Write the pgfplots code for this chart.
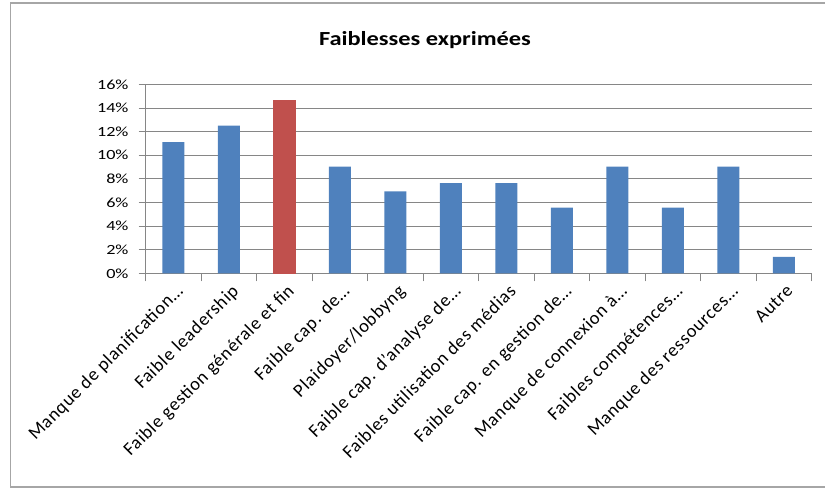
\documentclass[border=0pt]{standalone}
\usepackage{pgfplots}
\pgfplotsset{compat=1.18}
\usepackage{fontspec}
\setmainfont{Carlito}
\definecolor{xlblue}{HTML}{4F81BD}
\definecolor{xlred}{HTML}{C0504D}
\definecolor{gridgray}{HTML}{868686}
\begin{document}
\begin{tikzpicture}
\path[use as bounding box] (0pt,0pt) rectangle (825pt,-489pt);
\draw[gray!70, line width=1.2pt] (825pt,-3pt) -- (10.5pt,-3pt) -- (10.5pt,-487pt) -- (825pt,-487pt);
\node[font=\fontsize{20}{24}\selectfont\bfseries] at (425pt,-40pt) {\scalebox{1.22}[1]{Faiblesses exprimées}};
\begin{axis}[
  at={(145.7pt,-273.3pt)}, anchor=south west,
  scale only axis, width=666pt, height=189pt,
  ymin=0, ymax=16, ytick={0,2,...,16},
  xmin=0.5, xmax=12.5,
  xtick={1,...,12},
  xticklabels={{Manque de planification…},{Faible leadership},{Faible gestion générale et fin},{Faible cap. de…},{Plaidoyer/lobbyng},{Faible cap. d'analyse de…},{Faibles utilisation des médias},{Faible cap. en gestion de…},{Manque de connexion à…},{Faibles compétences…},{Manque des ressources…},{Autre}},
  minor xtick={0.5,1.5,...,12.5},
  axis x line*=bottom, axis y line*=left,
  axis line style={-, draw=gridgray, line width=0.8pt},
  xtick pos=bottom, ytick pos=left,
  tick align=outside, major tick length=7pt, minor tick length=8pt,
  major x tick style={draw=none},
  minor x tick style={draw=gridgray, line width=0.8pt},
  ytick style={draw=gridgray, line width=0.8pt},
  ymajorgrids, grid style={gridgray, line width=0.8pt},
  yticklabel={\scalebox{1.3}[1]{\pgfmathprintnumber{\tick}\%}},
  /pgf/number format/assume math mode=true,
  yticklabel style={font=\fontsize{14}{17}\selectfont, inner sep=2pt, xshift=-8pt},
  xticklabel style={font=\fontsize{18.5}{22}\selectfont\addfontfeatures{LetterSpace=4}, rotate=45, anchor=north east, inner sep=1pt, yshift=-2pt},
  ybar, bar width=22pt, clip=false,
]
\addplot[fill=xlblue, draw=none, bar shift=0pt] coordinates {(1,11.11)(2,12.5)(4,9.03)(5,6.94)(6,7.64)(7,7.64)(8,5.56)(9,9.03)(10,5.56)(11,9.03)(12,1.39)};
\addplot[fill=xlred, draw=xlred, line width=1.2pt, bar shift=0pt] coordinates {(3,14.58)};
\end{axis}
\end{tikzpicture}
\end{document}
